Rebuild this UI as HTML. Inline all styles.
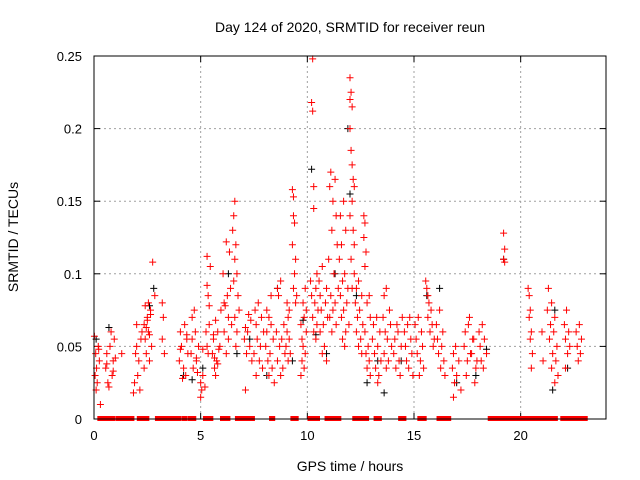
<!DOCTYPE html>
<html><head><meta charset="utf-8"><style>
body{margin:0;background:#fff}
svg{display:block;font-family:"Liberation Sans",sans-serif}
</style></head><body>
<svg id="chart" width="640" height="480">
<text x="350" y="32" font-size="14" text-anchor="middle">Day 124 of 2020, SRMTID for receiver reun</text>
<text x="350" y="471" font-size="14" text-anchor="middle">GPS time / hours</text>
<text x="18" y="237" font-size="14" text-anchor="middle" transform="rotate(-90 18 237)">SRMTID / TECUs</text>
<g id="grid"></g>
<g id="ticks"></g>
<g id="marks"></g>
<rect x="94" y="56" width="512" height="363" fill="none" stroke="#000" stroke-width="1"/>
</svg>
<script>
const xTicks=[0,5,10,15,20];
const yTicks=[0,0.05,0.1,0.15,0.2,0.25];
const yTickLabels=["0","0.05","0.1","0.15","0.2","0.25"];
const redHours=[0.02,0.2,0.08,0.25,0.12,0.05,0.15,0.1,0.3,0.22,
0.75,0.6,0.9,0.55,0.85,0.65,0.7,0.95,0.8,1.0,0.6,0.9,
1.3,
2.05,1.9,2.15,1.85,2.0,2.2,1.95,2.1,2.25,2.0,
2.5,2.65,2.35,2.55,2.4,2.7,2.45,2.6,2.35,2.55,2.4,2.65,2.5,2.45,2.6,
2.75,2.85,
3.2,3.25,3.3,3.2,
4.25,4.05,4.35,4.1,4.4,4.0,4.2,4.3,4.15,4.35,4.05,
4.75,4.6,4.9,4.55,4.8,4.65,4.85,4.7,4.6,4.8,
5.1,5.0,5.2,5.05,5.0,5.3,5.1,5.35,5.25,5.4,5.3,5.35,5.4,5.3,5.45,
5.8,5.6,5.9,5.55,5.75,5.65,5.95,5.7,5.6,5.85,5.65,5.8,5.7,
6.3,6.1,6.4,6.05,6.25,6.15,6.35,6.2,6.45,6.1,6.3,6.2,
6.6,6.55,6.5,6.65,6.6,6.7,6.55,6.75,6.8,6.6,6.7,6.65,
7.2,7.05,7.3,7.15,7.4,7.1,7.25,7.35,7.1,
7.7,7.55,7.85,7.6,7.95,7.65,7.8,7.5,7.75,7.9,7.6,
8.3,8.1,8.4,8.05,8.25,8.15,8.35,8.2,8.45,8.3,8.1,8.2,
8.75,8.6,8.65,8.9,8.55,8.8,8.7,8.95,8.6,8.85,8.75,
9.1,9.05,9.15,9.0,9.2,9.1,9.05,9.15,
9.3,9.35,9.35,9.4,9.3,9.45,9.4,9.35,9.5,9.45,
9.85,9.7,9.95,9.75,9.8,9.9,9.75,9.85,9.7,9.95,9.8,9.9,
10.25,10.2,10.25,10.3,10.3,10.45,10.15,10.4,10.2,10.35,10.5,10.25,10.45,10.3,10.4,
10.7,10.55,10.9,10.6,10.85,10.65,10.95,10.75,10.6,10.8,10.7,10.9,
11.1,11.3,11.05,11.2,11.35,11.15,11.4,11.0,11.25,11.45,11.1,11.3,11.2,11.05,11.35,11.15,
11.7,11.55,11.8,11.6,11.5,11.75,11.65,11.9,11.55,11.85,11.7,11.6,11.95,11.8,11.65,11.75,
12.0,12.05,12.0,12.1,12.0,12.05,12.1,12.15,12.2,12.1,12.0,12.15,12.2,12.05,12.2,12.1,
12.4,12.3,12.55,12.25,12.45,12.35,12.6,12.3,12.5,12.4,12.55,
12.65,12.7,12.65,12.75,12.7,12.9,12.8,12.95,12.7,12.85,12.75,12.9,12.8,12.95,
13.25,13.1,13.4,13.05,13.3,13.15,13.45,13.2,13.35,13.3,
13.7,13.6,13.85,13.55,13.9,13.65,13.75,13.95,13.6,13.8,13.7,
14.25,14.1,14.4,14.05,14.3,14.15,14.45,14.2,14.35,
14.7,14.55,14.85,14.6,14.9,14.65,14.75,14.95,14.8,
15.2,15.05,15.35,15.1,15.4,15.15,15.3,15.45,15.25,
15.55,15.6,15.65,15.7,15.8,15.65,15.85,15.75,15.95,15.9,
16.2,16.05,16.35,16.1,16.3,16.15,16.4,16.25,16.45,
16.95,16.85,17.1,16.8,17.0,16.9,17.2,16.85,
17.6,17.4,17.8,17.35,17.7,17.5,17.9,17.45,17.85,17.55,17.75,17.65,17.95,
18.2,18.05,18.3,18.1,18.4,18.15,18.25,
19.2,19.25,19.2,19.25,
20.35,20.4,20.45,20.4,20.5,20.45,20.55,20.5,
21.0,21.05,
21.3,21.45,21.25,21.6,21.4,21.55,21.35,21.7,21.5,21.65,21.45,21.75,21.6,
22.15,22.05,22.25,22.1,22.3,22.2,22.1,
22.75,22.6,22.85,22.65,22.8,22.7];
const redValues=[0.057,0.05,0.045,0.04,0.035,0.03,0.025,0.02,0.01,0.048,
0.05,0.045,0.04,0.035,0.03,0.025,0.022,0.055,0.06,0.042,0.038,0.033,
0.045,
0.03,0.025,0.02,0.018,0.05,0.055,0.045,0.04,0.06,0.065,
0.07,0.075,0.065,0.06,0.055,0.05,0.045,0.04,0.035,0.08,0.078,0.072,0.068,0.063,0.058,
0.108,0.085,
0.055,0.07,0.045,0.08,
0.065,0.06,0.055,0.05,0.045,0.04,0.035,0.03,0.028,0.058,0.048,
0.06,0.055,0.05,0.045,0.04,0.035,0.032,0.075,0.07,0.042,
0.03,0.025,0.022,0.02,0.015,0.05,0.048,0.045,0.06,0.065,0.092,0.085,0.078,0.112,0.105,
0.06,0.055,0.05,0.045,0.04,0.035,0.075,0.068,0.058,0.048,0.042,0.038,0.03,
0.07,0.08,0.09,0.1,0.085,0.078,0.115,0.122,0.065,0.06,0.055,0.045,
0.15,0.14,0.13,0.12,0.11,0.1,0.095,0.085,0.075,0.07,0.06,0.05,
0.06,0.055,0.05,0.045,0.04,0.02,0.072,0.068,0.063,
0.08,0.075,0.07,0.065,0.06,0.055,0.05,0.045,0.04,0.035,0.03,
0.065,0.06,0.055,0.05,0.045,0.04,0.035,0.03,0.025,0.085,0.075,0.07,
0.095,0.09,0.085,0.065,0.06,0.055,0.05,0.045,0.04,0.035,0.03,
0.07,0.06,0.055,0.05,0.045,0.04,0.08,0.075,
0.158,0.153,0.14,0.135,0.12,0.11,0.1,0.09,0.085,0.08,
0.07,0.065,0.06,0.055,0.05,0.045,0.04,0.035,0.03,0.075,0.08,0.09,
0.248,0.218,0.212,0.16,0.145,0.1,0.095,0.09,0.085,0.08,0.075,0.07,0.065,0.06,0.055,
0.105,0.095,0.09,0.085,0.08,0.075,0.07,0.065,0.06,0.05,0.045,0.04,
0.17,0.165,0.16,0.15,0.14,0.13,0.12,0.11,0.1,0.09,0.085,0.08,0.075,0.07,0.065,0.06,
0.15,0.14,0.13,0.12,0.11,0.1,0.095,0.09,0.085,0.08,0.075,0.07,0.065,0.06,0.055,0.05,
0.235,0.225,0.22,0.215,0.2,0.185,0.175,0.165,0.16,0.15,0.14,0.13,0.12,0.11,0.1,0.09,
0.095,0.09,0.085,0.08,0.075,0.07,0.065,0.06,0.055,0.05,0.045,
0.14,0.135,0.125,0.115,0.105,0.085,0.08,0.07,0.06,0.05,0.045,0.04,0.035,0.03,
0.07,0.065,0.06,0.055,0.05,0.045,0.04,0.035,0.03,0.025,
0.09,0.085,0.075,0.07,0.065,0.06,0.055,0.05,0.045,0.04,0.035,
0.06,0.055,0.05,0.045,0.04,0.035,0.07,0.065,0.03,
0.065,0.06,0.055,0.05,0.045,0.04,0.035,0.03,0.07,
0.07,0.065,0.06,0.055,0.05,0.045,0.04,0.035,0.03,
0.095,0.09,0.085,0.08,0.075,0.07,0.065,0.06,0.055,0.05,
0.075,0.065,0.06,0.055,0.05,0.045,0.04,0.035,0.03,
0.05,0.045,0.04,0.035,0.03,0.025,0.02,0.015,
0.07,0.06,0.055,0.05,0.045,0.04,0.035,0.03,0.025,0.065,0.055,0.045,0.04,
0.065,0.06,0.055,0.05,0.045,0.04,0.035,
0.128,0.117,0.11,0.108,
0.09,0.085,0.075,0.07,0.06,0.055,0.045,0.035,
0.06,0.04,
0.09,0.08,0.075,0.07,0.065,0.06,0.055,0.05,0.045,0.04,0.035,0.03,0.025,
0.075,0.065,0.06,0.055,0.05,0.045,0.035,
0.065,0.06,0.055,0.05,0.045,0.04];
const blackHours=[0.1,0.7,2.6,2.8,4.2,4.6,5.1,6.3,6.7,7.3,8.1,8.6,9.3,9.8,10.2,10.4,10.9,11.3,11.9,12.0,12.3,12.8,13.3,13.6,14.4,15.6,16.2,17.0,17.9,18.4,19.2,21.5,21.6,22.2];
const blackValues=[0.055,0.063,0.078,0.09,0.03,0.027,0.035,0.1,0.045,0.055,0.03,0.09,0.04,0.068,0.172,0.058,0.045,0.1,0.2,0.155,0.085,0.025,0.04,0.018,0.04,0.085,0.09,0.025,0.03,0.048,0.11,0.02,0.075,0.035];
const zeroStart=[0.25,0.75,1.1,1.4,2.1,2.95,4.2,4.5,5.2,6.0,6.7,8.3,9.3,10.1,10.9,11.2,12.2,12.5,13.2,14.35,15.25,16.15,18.55,19.4,19.8,20.6,21.2,21.6,21.95,22.65,23.0];
const zeroEnd=[0.6,0.9,1.3,1.8,2.5,4.0,4.3,4.7,5.5,6.3,7.45,8.4,9.5,10.5,11.05,11.5,12.35,12.8,13.4,14.55,15.5,16.65,19.3,19.8,20.55,21.1,21.5,21.65,22.6,22.9,23.05];

const NS="http://www.w3.org/2000/svg";
const X0=94,X1=606,Y0=419,Y1=56;
const sx=h=>X0+h/24*(X1-X0);
const sy=v=>Y0-v/0.25*(Y0-Y1);
function mk(tag,attrs,parent){const e=document.createElementNS(NS,tag);for(const k in attrs)e.setAttribute(k,attrs[k]);parent.appendChild(e);return e;}
const grid=document.getElementById('grid'),ticks=document.getElementById('ticks'),marks=document.getElementById('marks');
xTicks.forEach(t=>{
  const x=sx(t);
  if(t>0){const g=mk('line',{x1:x,x2:x,y1:Y1,y2:Y0,stroke:'#a0a0a0','stroke-dasharray':'2,3'},grid);
  
  }
  mk('line',{x1:x,x2:x,y1:Y0,y2:Y0-6,stroke:'#000'},ticks);
  mk('line',{x1:x,x2:x,y1:Y1,y2:Y1+6,stroke:'#000'},ticks);
  const l=mk('text',{x:x,y:Y0+21,'font-size':13,'text-anchor':'middle'},ticks);
  l.textContent=t;
  
  
});
yTicks.forEach((t,i)=>{
  const y=sy(t);
  if(t>0&&t<0.25){const g=mk('line',{x1:X0,x2:X1,y1:y,y2:y,stroke:'#a0a0a0','stroke-dasharray':'2,3'},grid);
  
  }
  mk('line',{x1:X0,x2:X0+6,y1:y,y2:y,stroke:'#000'},ticks);
  mk('line',{x1:X1,x2:X1-6,y1:y,y2:y,stroke:'#000'},ticks);
  const l=mk('text',{x:82,y:y+5,'font-size':13,'text-anchor':'end'},ticks);
  l.textContent=yTickLabels[i];
  
  
});
function plus(h,v,col,name){
  const x=sx(h),y=sy(v);
  const p=mk('path',{d:`M${x-3.5},${y}h7M${x},${y-3.5}v7`,stroke:col,'stroke-width':1,fill:'none'},marks);
  
  
}
blackHours.forEach((h,i)=>plus(h,blackValues[i],'#000','point-black'));
redHours.forEach((h,i)=>plus(h,redValues[i],'#ff0000','point-red'));
zeroStart.forEach((s,i)=>{
  const r=mk('rect',{x:sx(s)-2,y:Y0-3,width:sx(zeroEnd[i])-sx(s)+4,height:5,fill:'#ff0000'},marks);
  
  
});
</script>
</body></html>
